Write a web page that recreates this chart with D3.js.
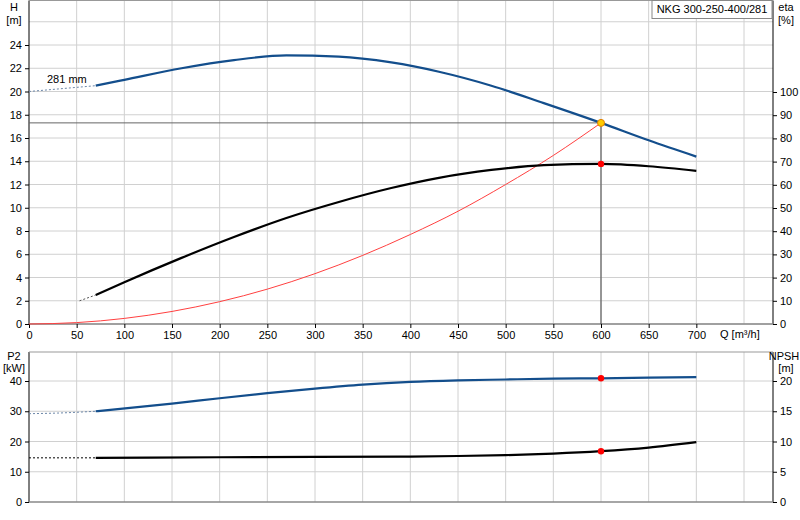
<!DOCTYPE html><html><head><meta charset="utf-8"><script src="https://d3js.org/d3.v7.min.js"></script>
<style>body{margin:0;background:#fff}text{font-family:"Liberation Sans",Arial,sans-serif;font-size:11px;fill:#000}</style></head><body><svg id="c" width="800" height="520"></svg><script>
const hQ=[70,100,160,215,270,325,380,430,485,540,600,650,700];
const hV=[20.5,21,22,22.7,23.1,23.0,22.5,21.7,20.5,19,17.3,15.8,14.4];
const hDash=[[0,20],[70,20.5]];
const etaQ=[70,100,160,215,270,325,380,430,485,540,600,650,700];
const etaV=[12.5,18,28.5,37.5,45.7,52.6,58.6,63,66.4,68.5,69,68,66];
const etaDash=[[53,10],[70,12.5]];
const sysQ=[0,50,100,150,200,250,300,350,400,450,500,550,600];
const sysV=[0,0.12,0.48,1.08,1.92,3.0,4.33,5.9,7.7,9.7,12.0,14.5,17.3];
const p2Q=[70,150,200,250,300,350,400,450,500,550,600,650,700];
const p2V=[30,32.5,34.3,36,37.5,38.8,39.7,40.2,40.5,40.8,40.9,41.1,41.3];
const p2Dash=[[0,29.2],[30,29.4],[70,30]];
const npQ=[70,200,300,400,450,500,550,600,650,700];
const npV=[7.3,7.4,7.45,7.5,7.6,7.75,8.0,8.4,9.0,9.9];
const npDash=[[0,7.3],[70,7.3]];
const qTicks=[0,50,100,150,200,250,300,350,400,450,500,550,600,650,700];
const hTicks=[0,2,4,6,8,10,12,14,16,18,20,22,24];
const etaTicks=[0,10,20,30,40,50,60,70,80,90,100];
const p2Ticks=[0,10,20,30,40];
const npTicks=[0,5,10,15,20];
const opQ=600, opH=17.3, opEta=69, opP2=40.9, opNp=8.4;

const svg=d3.select("#c");
const x=d3.scaleLinear().domain([0,600]).range([29,601]);
const L=29,R=773;
const yH=d3.scaleLinear().domain([0,24]).range([324,45]);
const yE=d3.scaleLinear().domain([0,100]).range([324,92]);
const yP=d3.scaleLinear().domain([0,40]).range([502,381]);
const yN=d3.scaleLinear().domain([0,20]).range([502,381]);
const grid="#d0d0d0";
function frame(y0,y1,yScale,gridVals){
  const g=svg.append("g");
  d3.range(50,800,50).forEach(q=>{const xx=x(q);if(xx<R)g.append("line").attr("x1",xx).attr("x2",xx).attr("y1",y0).attr("y2",y1).attr("stroke",grid);});
  gridVals.forEach(v=>{const yy=yScale(v);if(yy>y0)g.append("line").attr("x1",L).attr("x2",R).attr("y1",yy).attr("y2",yy).attr("stroke",grid);});
  g.append("line").attr("x1",L).attr("x2",L).attr("y1",y0).attr("y2",y1).attr("stroke","#000");
  g.append("line").attr("x1",R).attr("x2",R).attr("y1",y0).attr("y2",y1).attr("stroke","#000");
  g.append("line").attr("x1",L).attr("x2",R).attr("y1",y1).attr("y2",y1).attr("stroke","#888").attr("stroke-width",1.5);
  g.append("line").attr("x1",L).attr("x2",R).attr("y1",y0).attr("y2",y0).attr("stroke","#999");
}
frame(0.5,324,yH,d3.range(0,30,2));
frame(352,502,yP,[10,20,30,40]);
// axes
function leftAxis(s,t){svg.append("g").attr("transform",`translate(${L},0)`).call(d3.axisLeft(s).tickValues(t).tickSize(4).tickFormat(d3.format("d"))).call(g=>{g.select(".domain").remove();g.selectAll("text").style("font-size","11px").style("font-family","Liberation Sans");});}
function rightAxis(s,t){svg.append("g").attr("transform",`translate(${R},0)`).call(d3.axisRight(s).tickValues(t).tickSize(4).tickFormat(d3.format("d"))).call(g=>{g.select(".domain").remove();g.selectAll("text").style("font-size","11px").style("font-family","Liberation Sans");});}
leftAxis(yH,hTicks);rightAxis(yE,etaTicks);leftAxis(yP,p2Ticks);rightAxis(yN,npTicks);
svg.append("g").attr("transform","translate(0,324)").call(d3.axisBottom(x).tickValues(qTicks).tickSize(4).tickFormat(d3.format("d"))).call(g=>{g.select(".domain").remove();g.selectAll("text").style("font-size","11px").style("font-family","Liberation Sans");});
const lab=(t,xx,yy,a)=>svg.append("text").attr("x",xx).attr("y",yy).attr("text-anchor",a||"middle").text(t);
lab("H",14,11);lab("[m]",14,24);lab("eta",786,11);lab("[%]",786,24);
lab("P2",14,360);lab("[kW]",14,372);lab("NPSH",784,360);lab("[m]",786,372);
lab("Q [m³/h]",720,338,"start");
lab("281 mm",47,83,"start");
svg.append("rect").attr("x",652).attr("y",0.5).attr("width",120).attr("height",18).attr("fill","#fff").attr("stroke","#888");
lab("NKG 300-250-400/281",712,13);
// op lines
svg.append("line").attr("x1",L).attr("x2",x(opQ)).attr("y1",yH(opH)).attr("y2",yH(opH)).attr("stroke","#666");
svg.append("line").attr("x1",x(opQ)).attr("x2",x(opQ)).attr("y1",yH(opH)).attr("y2",324).attr("stroke","#444");
const line=(ys)=>d3.line().x(d=>x(d[0])).y(d=>ys(d[1])).curve(d3.curveMonotoneX);
const zip=(a,b)=>a.map((q,i)=>[q,b[i]]);
function draw(data,ys,color,w,dash){svg.append("path").datum(data).attr("d",line(ys)).attr("fill","none").attr("stroke",color).attr("stroke-width",w).attr("stroke-dasharray",dash||null);}
draw(zip(sysQ,sysV),yH,"#ff4040",1);
draw(hDash,yH,"#6b86a8",1,"2,2");draw(zip(hQ,hV),yH,"#134e8c",2.2);
draw(etaDash,yE,"#555",1,"2,2");draw(zip(etaQ,etaV),yE,"#000",2.2);
draw(p2Dash,yP,"#6b86a8",1,"2,2");draw(zip(p2Q,p2V),yP,"#134e8c",2.2);
draw(npDash,yN,"#000",1,"2,2");draw(zip(npQ,npV),yN,"#000",2.2);
svg.append("circle").attr("cx",x(opQ)).attr("cy",yH(opH)).attr("r",3.5).attr("fill","#ffcc00").attr("stroke","#e08000");
[[yE,opEta],[yP,opP2],[yN,opNp]].forEach(([s,v])=>svg.append("circle").attr("cx",x(opQ)).attr("cy",s(v)).attr("r",3.2).attr("fill","#f00"));
</script></body></html>
